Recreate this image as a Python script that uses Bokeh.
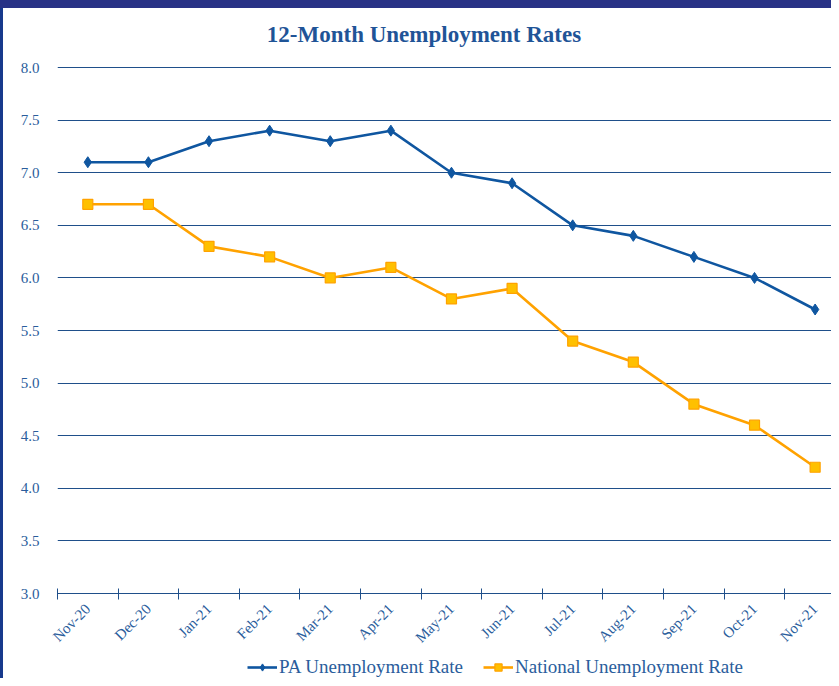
from bokeh.plotting import figure
from bokeh.models import Range1d, FixedTicker, Legend, LegendItem, Div
from bokeh.layouts import column, row
from bokeh.embed import file_html
from bokeh.resources import INLINE

title_text = "12-Month Unemployment Rates"
months = ["Nov-20", "Dec-20", "Jan-21", "Feb-21", "Mar-21", "Apr-21", "May-21",
          "Jun-21", "Jul-21", "Aug-21", "Sep-21", "Oct-21", "Nov-21"]
pa_rate = [7.1, 7.1, 7.3, 7.4, 7.3, 7.4, 7.0, 6.9, 6.5, 6.4, 6.2, 6.0, 5.7]
national_rate = [6.7, 6.7, 6.3, 6.2, 6.0, 6.1, 5.8, 5.9, 5.4, 5.2, 4.8, 4.6, 4.2]
y_ticks = [3.0, 3.5, 4.0, 4.5, 5.0, 5.5, 6.0, 6.5, 7.0, 7.5, 8.0]

xs = [i + 0.5 for i in range(len(months))]
bounds = list(range(len(months) + 1))

TEXT = "#2a5d9c"
GRID = "#1f4f8a"
FONT = "Liberation Serif"
PA_COLOR = "#0f56a0"
NA_LINE = "#ffa200"
NA_FILL = "#ffc000"

p = figure(width=828, height=606, output_backend="svg", toolbar_location=None,
           x_range=Range1d(0, 12.77), y_range=Range1d(3, 8.01),
           min_border_left=54, min_border_right=0, min_border_top=18,
           min_border_bottom=57)
p.outline_line_color = None
p.background_fill_color = "white"
p.border_fill_color = "white"

# x axis
p.xaxis.ticker = FixedTicker(ticks=xs, minor_ticks=bounds)
p.xaxis.major_label_overrides = {x: m for x, m in zip(xs, months)}
p.xaxis.major_label_orientation = 0.785398
p.xaxis.major_tick_line_color = None
p.xaxis.major_tick_in = 0
p.xaxis.major_tick_out = 0
p.xaxis.minor_tick_line_color = GRID
p.xaxis.minor_tick_in = 5
p.xaxis.minor_tick_out = 6
p.xaxis.axis_line_color = GRID
p.xaxis.axis_line_width = 1.2
p.xaxis.major_label_text_font = FONT
p.xaxis.major_label_text_font_size = "15px"
p.xaxis.major_label_text_color = TEXT
p.xaxis.major_label_standoff = 7
p.xgrid.grid_line_color = None

# y axis
p.yaxis.ticker = FixedTicker(ticks=y_ticks)
p.yaxis.major_label_overrides = {t: f"{t:.1f}" for t in y_ticks}
p.yaxis.axis_line_color = None
p.yaxis.major_tick_line_color = None
p.yaxis.minor_tick_line_color = None
p.yaxis.major_label_text_font = FONT
p.yaxis.major_label_text_font_size = "15px"
p.yaxis.major_label_text_color = TEXT
p.yaxis.major_label_standoff = 12
p.ygrid.grid_line_color = GRID
p.ygrid.grid_line_width = 1.2
p.ygrid.ticker = FixedTicker(ticks=y_ticks)

# series
p.line(xs, pa_rate, line_color=PA_COLOR, line_width=2.6)
p.scatter(xs, pa_rate, marker="diamond", size=11, fill_color=PA_COLOR, line_color=PA_COLOR)
p.line(xs, national_rate, line_color=NA_LINE, line_width=2.6)
p.scatter(xs, national_rate, marker="square", size=10, fill_color=NA_FILL,
          line_color=NA_LINE, line_width=1.2)

# legend strip (separate small figure so the legend is not clipped);
# its renderers hold one point each, kept off-screen by the strip's range
lf = figure(width=828, height=24, output_backend="svg", toolbar_location=None,
            x_range=Range1d(0, 1), y_range=Range1d(0, 1),
            x_axis_type=None, y_axis_type=None,
            min_border_left=0, min_border_right=0, min_border_top=0, min_border_bottom=0)
lf.outline_line_color = None
lf.grid.visible = False
l1 = lf.line(xs[:1], pa_rate[:1], line_color=PA_COLOR, line_width=2.6)
m1 = lf.scatter(xs[:1], pa_rate[:1], marker="diamond", size=11, fill_color=PA_COLOR,
                line_color=PA_COLOR)
l2 = lf.line(xs[:1], national_rate[:1], line_color=NA_LINE, line_width=2.6)
m2 = lf.scatter(xs[:1], national_rate[:1], marker="square", size=10, fill_color=NA_FILL,
                line_color=NA_LINE, line_width=1.2)
legend = Legend(items=[
    LegendItem(label="PA Unemployment Rate", renderers=[l1, m1]),
    LegendItem(label="National Unemployment Rate", renderers=[l2, m2]),
], orientation="horizontal", location=(190, 0))
legend.background_fill_alpha = 0
legend.border_line_color = None
legend.padding = 0
legend.margin = 0
legend.spacing = 20
legend.glyph_width = 30
legend.glyph_height = 18
legend.label_height = 18
legend.label_standoff = 2
legend.label_text_font = FONT
legend.label_text_font_size = "19px"
legend.label_text_color = TEXT
lf.add_layout(legend, "center")

title_div = Div(
    text=(f'<div style="margin-left:14px;width:814px;text-align:center;'
          f'font-family:\'{FONT}\';font-weight:bold;font-size:23px;'
          f'line-height:27px;padding-top:13px;color:#1f5497;">{title_text}</div>'),
    width=828, height=40, margin=0)

top_band = Div(text="", width=831, height=8, margin=0,
               styles={"background-color": "#283286"})
left_band = Div(text="", width=3, height=670, margin=0,
                styles={"background-color": "#17398c"})
layout = column(top_band,
                row(left_band, column(title_div, p, lf, spacing=0), spacing=0),
                spacing=0)

open("out.html", "w").write(file_html(layout, INLINE))
